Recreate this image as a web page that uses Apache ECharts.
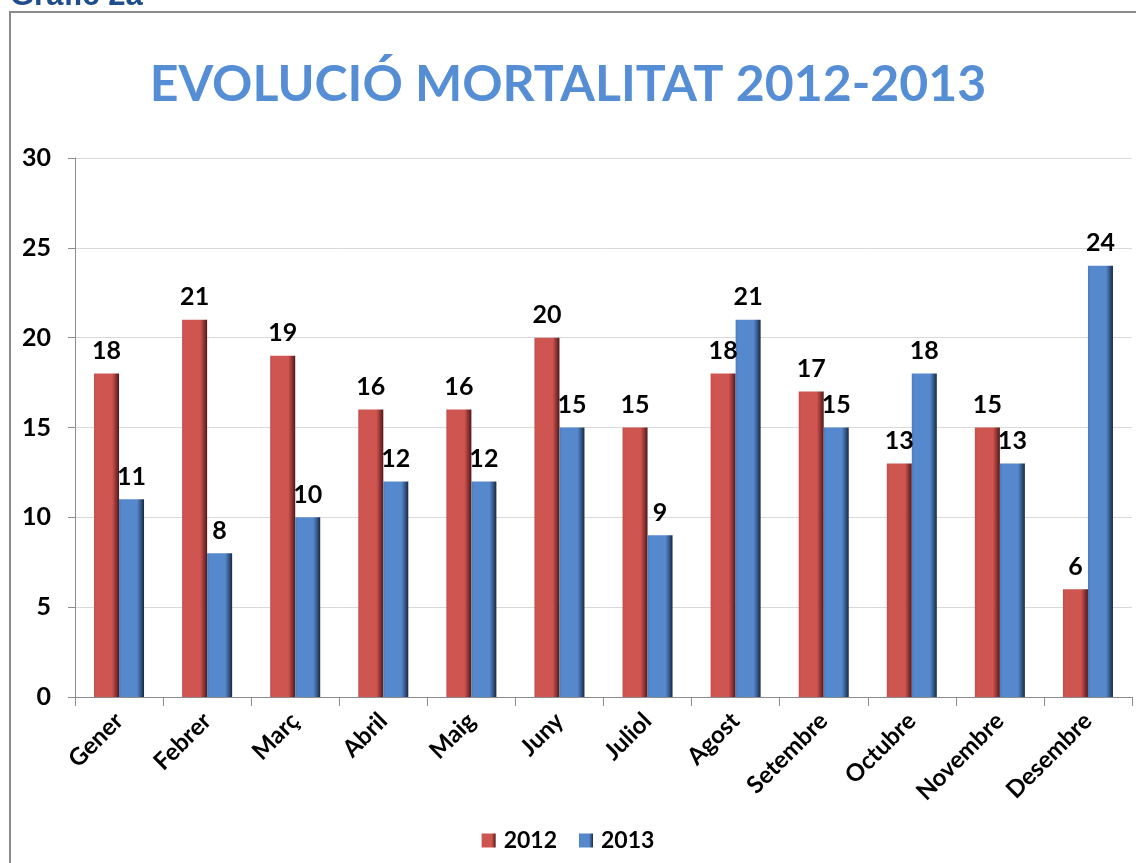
<!DOCTYPE html>
<html>
<head>
<meta charset="utf-8">
<script src="https://cdn.jsdelivr.net/npm/echarts@6/dist/echarts.min.js"></script>
<style>
  html, body {margin: 0; padding: 0; background: #fff;}
  #chart {width: 1136px; height: 863px;}
</style>
</head>
<body>
<div id="chart"></div>
<script>
// dades llegides del gràfic
const mesos = ['Gener', 'Febrer', 'Març', 'Abril', 'Maig', 'Juny', 'Juliol', 'Agost', 'Setembre', 'Octubre', 'Novembre', 'Desembre'];
const dades2012 = [18, 21, 19, 16, 16, 20, 15, 18, 17, 13, 15, 6];
const dades2013 = [11, 8, 10, 12, 12, 15, 9, 21, 15, 18, 13, 24];
const anys = ['2012', '2013'];
const yTicks = [0, 5, 10, 15, 20, 25, 30];

const FONT = 'Lato';

// degradat horitzontal per imitar el bisell 3D
function bevel(light, base, dark, darkest) {
  return new echarts.graphic.LinearGradient(0, 0, 1, 0, [
    {offset: 0, color: light},
    {offset: 0.1, color: base},
    {offset: 0.72, color: base},
    {offset: 0.85, color: dark},
    {offset: 1, color: darkest}
  ]);
}
const vermell = bevel('#c24e4b', '#cf5551', '#9a3835', '#4e1918');
const blau = bevel('#4a7dbd', '#5588cd', '#3a5f91', '#18283f');

const labelStyle = {
  show: true,
  position: 'top',
  distance: 10,
  color: '#000',
  fontFamily: FONT,
  fontWeight: 'bold',
  fontSize: 25
};

const myChart = echarts.init(document.getElementById('chart'));

myChart.setOption({
  animation: false,
  title: {
    text: 'EVOLUCIÓ MORTALITAT 2012-2013',
    left: 'center',
    top: 55,
    textStyle: {
      color: '#558ed5',
      fontFamily: FONT,
      fontWeight: 'bold',
      fontSize: 50
    }
  },
  graphic: [
    {
      type: 'rect',
      shape: {x: 10, y: 12, width: 1140, height: 870},
      style: {fill: 'none', stroke: '#8a8a8a', lineWidth: 2},
      silent: true
    },
    {
      type: 'text',
      x: 10,
      y: 12,
      z: 10,
      style: {
        text: 'Gràfic 2a',
        fill: '#1f4e8c',
        verticalAlign: 'bottom',
        font: 'bold 31px "Liberation Sans"'
      }
    }
  ],
  legend: {
    data: anys,
    bottom: 6,
    left: 'center',
    itemWidth: 14,
    itemHeight: 14,
    itemGap: 22,
    icon: 'rect',
    textStyle: {
      color: '#000',
      fontFamily: FONT,
      fontWeight: 'bold',
      fontSize: 23,
      padding: [0, 0, 0, 3]
    }
  },
  grid: {
    left: 75,
    right: 4,
    top: 158,
    bottom: 166
  },
  xAxis: {
    type: 'category',
    data: mesos,
    axisLine: {lineStyle: {color: '#8c8c8c', width: 1}},
    axisTick: {show: true, length: 9, alignWithLabel: false, lineStyle: {color: '#8c8c8c'}},
    axisLabel: {
      rotate: 45,
      margin: 20,
      interval: 0,
      color: '#000',
      fontFamily: FONT,
      fontWeight: 'bold',
      fontSize: 24
    }
  },
  yAxis: {
    type: 'value',
    min: yTicks[0],
    max: yTicks[yTicks.length - 1],
    interval: 5,
    axisLine: {show: true, lineStyle: {color: '#8c8c8c'}},
    axisTick: {show: true, length: 7, lineStyle: {color: '#8c8c8c'}},
    splitLine: {lineStyle: {color: '#d9d9d9'}},
    axisLabel: {
      margin: 24,
      color: '#000',
      fontFamily: FONT,
      fontWeight: 'bold',
      fontSize: 25
    }
  },
  series: [
    {
      name: anys[0],
      type: 'bar',
      data: dades2012,
      barWidth: 25,
      barGap: '0%',
      itemStyle: {color: vermell},
      label: labelStyle
    },
    {
      name: anys[1],
      type: 'bar',
      data: dades2013,
      barWidth: 25,
      itemStyle: {color: blau},
      label: labelStyle
    }
  ]
});
</script>
</body>
</html>
